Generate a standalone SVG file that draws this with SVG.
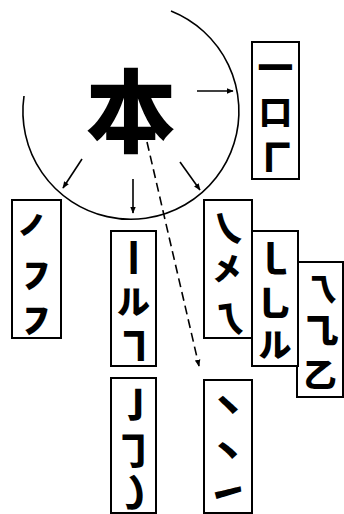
<svg xmlns="http://www.w3.org/2000/svg" width="344" height="514" viewBox="0 0 344 514">
<defs>
<marker id="ah" viewBox="0 0 10 10" refX="9" refY="5" markerWidth="7" markerHeight="7" orient="auto" markerUnits="userSpaceOnUse">
<path d="M0,1 L10,5 L0,9 Z" fill="#000"/>
</marker>
</defs>
<style>
.box{fill:#fff;stroke:#000;stroke-width:2}
.s{font-family:"Noto Sans CJK SC","Noto Sans CJK JP",sans-serif;font-weight:900;font-size:38px;text-anchor:middle;dominant-baseline:central;fill:#000}
.m{font-size:33px}
.ln{stroke:#000;stroke-width:1.6;fill:none}
</style>
<rect width="344" height="514" fill="#fff"/>
<g id="center">
<path class="ln" d="M171,11 A108,108 0 1 1 24,96" stroke-width="2"/>
<text x="131" y="106" style="font-family:'Noto Sans CJK SC',sans-serif;font-weight:900;font-size:90px;text-anchor:middle;dominant-baseline:central">本</text>
</g>
<g id="connectors">
<line class="ln" x1="197" y1="91" x2="233" y2="91" marker-end="url(#ah)"/>
<line class="ln" x1="82" y1="159" x2="63" y2="188" marker-end="url(#ah)"/>
<line class="ln" x1="133" y1="179" x2="133" y2="213" marker-end="url(#ah)"/>
<line class="ln" x1="180" y1="162" x2="200" y2="190" marker-end="url(#ah)"/>
<line class="ln" x1="147" y1="142" x2="199" y2="366" stroke-dasharray="9,5" marker-end="url(#ah)"/>
</g>
<g id="boxA">
<rect class="box" x="252" y="42" width="47" height="137"/>
<text class="s" x="275.5" y="64">㇐</text>
<text class="s m" x="275.5" y="110">口</text>
<text class="s" x="275.5" y="158" transform="translate(0,316) scale(1,-1)">㇗</text>
</g>
<g id="boxB">
<rect class="box" x="12" y="200" width="49" height="138"/>
<text class="s" x="36.5" y="227">㇒</text>
<text class="s" x="36.5" y="273">㇇</text>
<text class="s" x="36.5" y="318">㇇</text>
</g>
<g id="boxC">
<rect class="box" x="111" y="231" width="45" height="135"/>
<text class="s" x="133.5" y="255">㇑</text>
<text class="s m" x="133.5" y="300">ル</text>
<text class="s" x="133.5" y="343">㇕</text>
</g>
<g id="boxD">
<rect class="box" x="111" y="378" width="45" height="135"/>
<text class="s" x="133.5" y="402">㇚</text>
<text class="s" x="133.5" y="447">㇆</text>
<text class="s" x="133.5" y="489">㇁</text>
</g>
<g id="boxG">
<rect class="box" x="297" y="262" width="46" height="135"/>
<text class="s m" x="320" y="287">乁</text>
<text class="s" x="320" y="328">㇈</text>
<text class="s m" x="320" y="373">乙</text>
</g>
<g id="boxF">
<rect class="box" x="252" y="231" width="46" height="135"/>
<text class="s" x="275" y="255">㇄</text>
<text class="s" x="275" y="300">㇟</text>
<text class="s m" x="275" y="343">ル</text>
</g>
<g id="boxE">
<rect class="box" x="204" y="200" width="48" height="138"/>
<text class="s" x="228" y="225">㇏</text>
<text class="s m" x="228" y="267">㐅</text>
<text class="s" x="228" y="315">㇝</text>
</g>
<g id="boxH">
<rect class="box" x="204" y="380" width="48" height="133"/>
<text class="s" x="228" y="402">㇔</text>
<text class="s" x="228" y="448">丶</text>
<text class="s" x="228" y="489">㇀</text>
</g>
</svg>
